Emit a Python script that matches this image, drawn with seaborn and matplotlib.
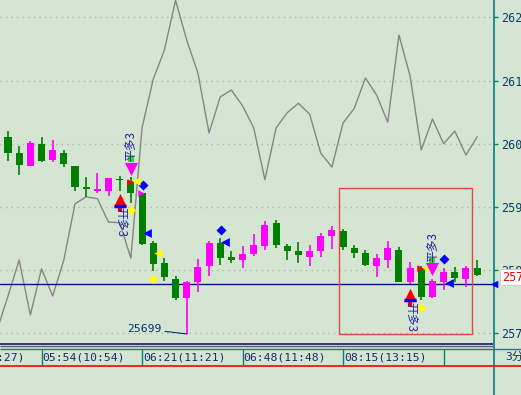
import matplotlib
matplotlib.use("Agg")
import matplotlib.pyplot as plt
import matplotlib.transforms as mtransforms
import seaborn as sns

# 3-minute bars (price axis 257..262)
opens = [260.11, 259.85, 259.65, 260.00, 259.74, 259.85, 259.65, 259.31, 259.25, 259.25,
         259.44, 259.41, 259.22, 258.43, 258.11, 257.86, 257.56, 257.81, 258.06, 258.43,
         258.21, 258.16, 258.25, 258.38, 258.75, 258.38, 258.30, 258.21, 258.30, 258.54,
         258.62, 258.35, 258.27, 258.06, 258.16, 258.32, 257.81, 258.03, 257.57, 257.81,
         257.97, 257.86, 258.03]
highs = [260.20, 259.96, 260.04, 260.11, 260.06, 259.90, 259.65, 259.47, 259.54, 259.46,
         259.49, 259.47, 259.22, 258.46, 258.19, 257.91, 257.83, 258.18, 258.46, 258.51,
         258.30, 258.38, 258.57, 258.78, 258.79, 258.41, 258.44, 258.40, 258.59, 258.70,
         258.65, 258.40, 258.32, 258.25, 258.46, 258.37, 258.13, 258.06, 257.86, 258.03,
         258.05, 258.06, 258.16]
lows = [259.73, 259.50, 259.65, 259.71, 259.71, 259.63, 259.25, 259.16, 259.22, 259.17,
        259.25, 259.06, 258.40, 257.99, 257.83, 257.53, 256.99, 257.65, 257.91, 258.08,
        258.11, 258.03, 258.22, 258.32, 258.35, 258.16, 258.11, 258.06, 258.21, 258.33,
        258.32, 258.19, 258.06, 257.89, 258.03, 257.81, 257.78, 257.53, 257.56, 257.69,
        257.81, 257.73, 257.90]
closes = [259.85, 259.66, 260.01, 259.73, 259.90, 259.68, 259.31, 259.29, 259.28, 259.46,
          259.42, 259.22, 258.41, 258.10, 257.89, 257.56, 257.81, 258.05, 258.43, 258.19,
          258.16, 258.25, 258.40, 258.71, 258.40, 258.30, 258.24, 258.30, 258.54, 258.63,
          258.37, 258.27, 258.08, 258.19, 258.35, 257.81, 258.03, 257.57, 257.83, 257.97,
          257.88, 258.03, 257.92]

# grey indicator line (starts one bar before the first visible candle)
line_idx = list(range(-1, 43))
line_vals = [257.04, 257.59, 258.16, 257.29, 258.02, 257.59, 258.16, 259.05, 259.16, 259.13,
             258.76, 258.75, 258.19, 260.25, 261.02, 261.48, 262.27, 261.64, 261.12, 260.17,
             260.74, 260.85, 260.60, 260.25, 259.43, 260.25, 260.49, 260.64, 260.47, 259.85,
             259.63, 260.33, 260.56, 261.04, 260.77, 260.34, 261.72, 261.07, 259.90, 260.39,
             260.00, 260.20, 259.82, 260.11]

last_price = 257.78
price_ticks = [257, 258, 259, 260, 261, 262]
time_idx = [-6, 3, 12, 21, 30]
time_labels = ["05:27(10:27)", "05:54(10:54)", "06:21(11:21)", "06:48(11:48)", "08:15(13:15)"]
sep_idx = [3, 12, 21, 30, 39]

# trade signals
buy_idx = [10, 36]
buy_tip = [259.19, 257.69]
sell_idx = [11, 38]
sell_tip = [259.50, 257.91]
buy_text = "开多3"
sell_text = "平多3"

# small signal markers (bar index, price)
yellow_dia_idx = [11, 13, 37]
yellow_dia_val = [258.95, 257.86, 257.40]
blue_dia_idx = [12, 19, 39]
blue_dia_val = [259.35, 258.63, 258.18]
blue_tri_idx = [12, 19, 39]
blue_tri_val = [258.59, 258.44, 257.80]
yellow_tri_idx = [11, 13, 37]
yellow_tri_val = [259.41, 258.27, 258.03]
red_tri_idx = [11, 37]
red_tri_val = [259.39, 258.03]
mag_tri_idx = [12]
mag_tri_val = [259.22]
green_sq_idx = [11, 38]
green_sq_val = [259.76, 258.15]

# region box (bar index range, price range)
box_idx = (29.6, 41.5)
box_val = (256.99, 259.30)

BG = "#d4e6d2"
GREEN = "#008000"
MAGENTA = "#ff00ff"
TEAL = "#008080"
NAVY = "#0c2c6c"
SIGNAL_TXT = "#2020a8"

sns.set_theme(style="white")
plt.rcParams["font.family"] = ["DejaVu Sans Mono", "Noto Sans CJK SC"]

fig = plt.figure(figsize=(5.21, 3.95), dpi=100)
fig.patch.set_facecolor(BG)

# pixel-space overlay for the frame pieces
bax = fig.add_axes([0, 0, 1, 1])
bax.set_xlim(0, 521)
bax.set_ylim(395, 0)
bax.axis("off")

ax = fig.add_axes([0, 51 / 395, 494 / 521, 344 / 395])
ax.set_facecolor("none")
ax.set_zorder(2)
ax.set_xlim(-0.716, 43.51)
ax.set_ylim(256.831, 262.274)

# dotted price grid
for p in price_ticks:
    ax.axhline(p, color="#b0b0b0", lw=1, ls=(0, (1, 3)), zorder=0)

# indicator line
sns.lineplot(x=line_idx, y=line_vals, color="#858585", lw=1, ax=ax, zorder=1)

# candles
for i, (o, h, l, c) in enumerate(zip(opens, highs, lows, closes)):
    col = MAGENTA if c >= o else GREEN
    ax.vlines(i, l, h, color=col, lw=1.2, zorder=3)
    body = max(abs(c - o), 0.025)
    ax.bar(i, body, bottom=min(o, c), width=0.63, color=col, lw=0, zorder=4)

# last price line
ax.axhline(last_price, color="#10107a", lw=1, zorder=2)

# low annotation
lo_i = min(range(len(lows)), key=lambda k: lows[k])
ax.annotate(f"{lows[lo_i] * 100:.0f}", xy=(lo_i, lows[lo_i]), xytext=(-25, 5),
            textcoords="offset pixels", ha="right", va="center", fontsize=8.2,
            color=NAVY, arrowprops=dict(arrowstyle="-", color=NAVY, lw=0.8,
                                        shrinkA=0, shrinkB=0))

# region box
ax.add_patch(plt.Rectangle((box_idx[0], box_val[0]), box_idx[1] - box_idx[0],
                           box_val[1] - box_val[0], fill=False, ec="#e84545",
                           lw=1, zorder=5))

# small markers
ax.scatter(yellow_dia_idx, yellow_dia_val, marker="D", s=22, color="#ffff00", lw=0, zorder=6)
ax.scatter([x + 0.05 for x in blue_dia_idx], blue_dia_val, marker="D", s=26,
           color="#0000ff", lw=0, zorder=6)
ax.scatter([x + 0.45 for x in blue_tri_idx], blue_tri_val, marker="<", s=40,
           color="#0000ff", lw=0, zorder=6)
ax.scatter([x + 0.45 for x in yellow_tri_idx], yellow_tri_val, marker="<", s=35,
           color="#ffff00", lw=0, zorder=6)
ax.scatter([x - 0.1 for x in red_tri_idx], red_tri_val, marker=">", s=22,
           color="#ff0000", lw=0, zorder=6)
ax.scatter([x - 0.1 for x in mag_tri_idx], mag_tri_val, marker=">", s=22,
           color=MAGENTA, lw=0, zorder=6)
ax.scatter(green_sq_idx, green_sq_val, marker="s", s=18, color="#22dd22", lw=0, zorder=6)

# buy arrows with labels below
for i, tip in zip(buy_idx, buy_tip):
    ax.vlines(i, tip - 0.27, tip - 0.12, color="#ff0000", lw=3, zorder=7)
    ax.scatter([i], [tip - 0.085], marker="^", s=90, color="#ff0000", lw=0, zorder=7)
    ax.scatter([i], [tip - 0.17], marker="_", s=80, color="#0000ff", lw=2.5, zorder=8)
    ax.annotate(buy_text, xy=(i, tip), xytext=(0, -12), textcoords="offset pixels",
                rotation=-90, ha="center", va="top", fontsize=8.5, color=SIGNAL_TXT,
                family=["Noto Sans CJK SC"], zorder=8)

# sell arrows with labels above
for i, tip in zip(sell_idx, sell_tip):
    ax.scatter([i], [tip + 0.1], marker="v", s=90, color=MAGENTA, lw=0, zorder=7)
    ax.annotate(sell_text, xy=(i, tip), xytext=(0, 14), textcoords="offset pixels",
                rotation=90, ha="center", va="bottom", fontsize=8.5, color=SIGNAL_TXT,
                family=["Noto Sans CJK SC"], zorder=8)

# right price axis
for s in ["left", "top", "right", "bottom"]:
    ax.spines[s].set_visible(False)
ax.set_xticks([])
ax.yaxis.tick_right()
ax.set_yticks(price_ticks)
ax.set_yticklabels([str(p) for p in price_ticks])
ax.tick_params(axis="y", right=True, direction="out", length=3, width=1, color=TEAL,
               labelcolor="#0b3a6a", labelsize=8.5, pad=2)
ax.set_ylabel("")

# last price tag
ax.annotate(f"{int(last_price)}", xy=(1.0, last_price), xycoords=("axes fraction", "data"),
            xytext=(8, 7), textcoords="offset pixels", ha="left", va="center",
            fontsize=8.5, color="#ee0000",
            bbox=dict(boxstyle="square,pad=0.15", fc="white", ec="#c8c8c8", lw=0.6),
            zorder=10, annotation_clip=False)
ax.scatter([43.51], [last_price], marker="<", s=30, color="#0000ff", lw=0,
           zorder=10, clip_on=False)

# frame and time strip
bax.vlines(494, 0, 395, color=TEAL, lw=1.2)
bax.hlines(344, 0, 493, color="#1c1c5c", lw=1.2)
bax.hlines(346, 0, 493, color="#5a5a80", lw=1)
bax.hlines(348.5, 0, 521, color=TEAL, lw=1)
bax.hlines(366, 0, 521, color="#ff0000", lw=1.2)

tr = mtransforms.blended_transform_factory(ax.transData, bax.transData)
for i in sep_idx:
    ax.plot([i, i], [349, 364], color=TEAL, lw=1, transform=tr, clip_on=False)
for i, lab in zip(time_idx, time_labels):
    ax.text(i + 0.08, 357, lab, transform=tr, ha="left", va="center", fontsize=8.2,
            color="#1a2a6a", clip_on=False)
bax.text(505, 357, "3分", ha="left", va="center", fontsize=8.2, color="#1a2a6a")

fig.savefig("out.png", dpi=100, facecolor=BG)
